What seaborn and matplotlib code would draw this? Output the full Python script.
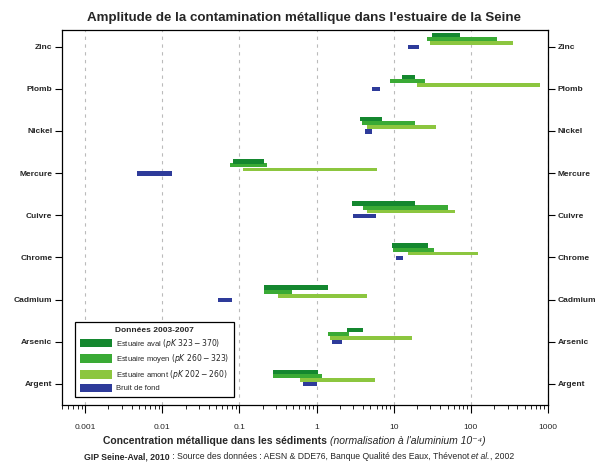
import numpy as np
import pandas as pd
import matplotlib
matplotlib.use("Agg")
import matplotlib.pyplot as plt
import seaborn as sns
from matplotlib.patches import Patch

# metals, top to bottom
metals = ["Zinc", "Plomb", "Nickel", "Mercure", "Cuivre", "Chrome",
          "Cadmium", "Arsenic", "Argent"]

# ranges (normalised concentration, log scale)
aval_lo = [31.6, 12.9, 3.7, 0.082, 2.9, 9.6, 0.21, 2.5, 0.27]
aval_hi = [73, 19, 7.1, 0.21, 19, 28, 1.4, 4.0, 1.05]
moyen_lo = [27, 9.0, 3.9, 0.075, 4.0, 9.8, 0.21, 1.4, 0.27]
moyen_hi = [220, 25.6, 19, 0.23, 51, 33, 0.48, 2.6, 1.18]
amont_lo = [30, 20, 4.5, 0.11, 4.5, 15.4, 0.32, 1.5, 0.61]
amont_hi = [356, 800, 35, 6.1, 63, 125, 4.5, 17.4, 5.75]
fond_lo = [15.4, 5.3, 4.3, 0.0047, 3.0, 10.8, 0.053, 1.6, 0.67]
fond_hi = [21.4, 6.7, 5.25, 0.0133, 5.9, 13.3, 0.08, 2.14, 1.0]

zones = ["Estuaire aval $\\it{(pK\\ 323-370)}$",
         "Estuaire moyen $\\it{(pK\\ 260-323)}$",
         "Estuaire amont $\\it{(pK\\ 202-260)}$",
         "Bruit de fond"]

sns.set_style("white")
plt.rcParams['font.family'] = ['Liberation Sans', 'DejaVu Sans']

colors = sns.color_palette(["#14872f", "#3aaa35", "#8cc63f", "#2e3b9a"])

rows = []
for z, lo, hi in zip(zones, [aval_lo, moyen_lo, amont_lo, fond_lo],
                     [aval_hi, moyen_hi, amont_hi, fond_hi]):
    for i, m in enumerate(metals):
        rows.append({"metal": m, "pos": i, "zone": z, "lo": lo[i], "hi": hi[i]})
df = pd.DataFrame(rows)

offsets = {zones[0]: -0.28, zones[1]: -0.185, zones[2]: -0.09, zones[3]: 0.01}
heights = {zones[0]: 0.11, zones[1]: 0.1, zones[2]: 0.085, zones[3]: 0.1}

fig = plt.figure(figsize=(6.02, 4.66), dpi=100)
ax = fig.add_axes([0.103, 0.131, 0.807, 0.805])

for z, c in zip(zones[::-1], colors[::-1]):
    d = df[df.zone == z]
    ax.barh(d.pos + offsets[z], d.hi - d.lo, left=d.lo, height=heights[z],
            color=c, linewidth=0)

ax.set_xscale("log")
ax.set_xlim(5e-4, 1000)
ax.set_ylim(8.5, -0.4)
ax.set_xticks([0.001, 0.01, 0.1, 1, 10, 100, 1000])
ax.set_xticklabels(["0.001", "0.01", "0.1", "1", "10", "100", "1000"])
ax.set_yticks(range(len(metals)))
ax.set_yticklabels(metals, fontweight="bold")
ax.tick_params(axis="y", left=True, right=True, labelright=True,
               length=5, width=0.8, labelsize=6, pad=2, color="black")
ax.tick_params(axis="x", which="major", bottom=True, length=6, width=0.8,
               labelsize=6, pad=8, color="black")
ax.tick_params(axis="x", which="minor", bottom=True, length=3, width=0.6,
               color="black")
ax.grid(axis="x", which="major", linestyle=(0, (3, 4)), color="#bbbbbb",
        linewidth=0.8)
for s in ax.spines.values():
    s.set_visible(True)
    s.set_color("black")
    s.set_linewidth(0.9)

handles = [Patch(facecolor=c, edgecolor="none", label=z) for z, c in zip(zones, colors)]
leg = ax.legend(handles=handles, title="Données 2003-2007", loc="lower left",
                bbox_to_anchor=(0.027, 0.021), borderaxespad=0, fontsize=5.5,
                title_fontproperties={"weight": "bold", "size": 6},
                fancybox=False, edgecolor="black", framealpha=1,
                handlelength=4.2, handleheight=1.4, labelspacing=0.35,
                borderpad=0.6, handletextpad=0.6)
leg.get_frame().set_linewidth(0.9)

fig.text(0.505, 0.961, "Amplitude de la contamination métallique dans l'estuaire de la Seine",
         ha="center", va="center", fontsize=9.6, fontweight="bold")


def rich_text(x, y, parts, size):
    # place text pieces side by side, centred on x
    r = fig.canvas.get_renderer()
    texts = [fig.text(0, y, s, fontsize=size, fontweight=w, fontstyle=st, va="baseline")
             for s, w, st in parts]
    widths = [t.get_window_extent(r).width / fig.bbox.width for t in texts]
    x0 = x - sum(widths) / 2
    for t, wd in zip(texts, widths):
        t.set_x(x0)
        x0 += wd


rich_text(0.489, 0.047,
          [("Concentration métallique dans les sédiments ", "bold", "normal"),
           ("(normalisation à l'aluminium 10⁻⁴)", "normal", "italic")], 7.5)
rich_text(0.497, 0.015,
          [("GIP Seine-Aval, 2010", "bold", "normal"),
           (" : Source des données : AESN & DDE76, Banque Qualité des Eaux, Thévenot ", "normal", "normal"),
           ("et al.", "normal", "italic"),
           (", 2002", "normal", "normal")], 6.2)

fig.savefig("out.png", dpi=100)
